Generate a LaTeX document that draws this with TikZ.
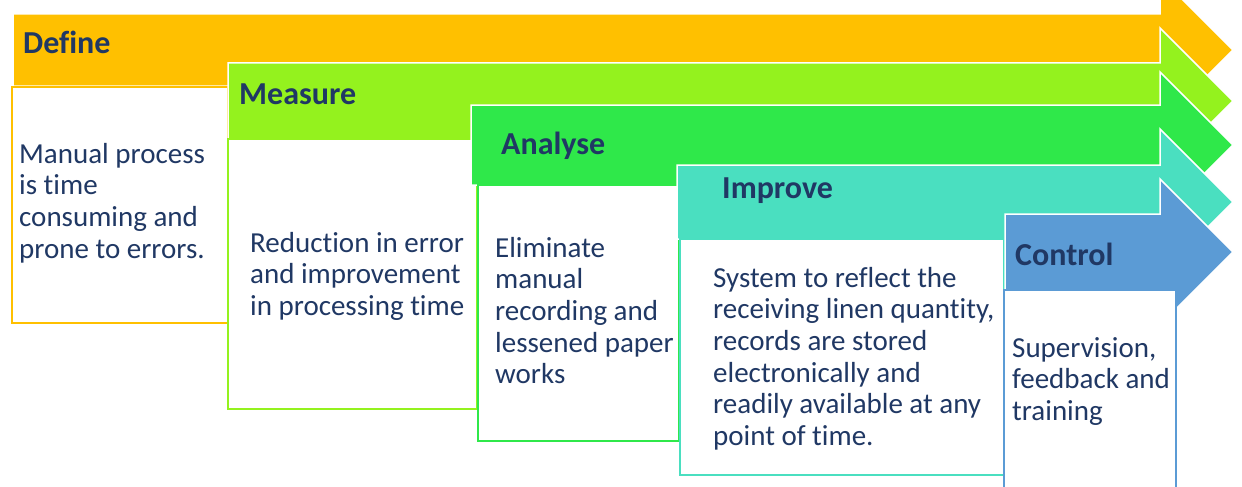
\documentclass[tikz,border=0pt]{standalone}
\usepackage{fontspec}
\setmainfont{Carlito}[Ligatures=NoCommon]
\definecolor{cOrange}{HTML}{FFC000}
\definecolor{cLime}{HTML}{94F21E}
\definecolor{cGreen}{HTML}{2FE84A}
\definecolor{cTeal}{HTML}{4ADFC0}
\definecolor{cBlue}{HTML}{5B9BD5}
\definecolor{cNavy}{HTML}{203864}
\newcommand{\dmaicarrow}[4]{%
  \fill[#4, draw=white, line width=1.5pt] (#1,#2-#3) -- (1160,#2-#3) -- (1160,#2-73) -- (1233,#2) -- (1160,#2+73) -- (1160,#2+#3) -- (#1,#2+#3) -- cycle;}
\begin{document}
\begin{tikzpicture}[x=1pt,y=-1pt,
  txtbox/.style={fill=white, line width=2pt},
  hdr/.style={anchor=base west, inner sep=0pt, font=\fontsize{32}{36}\selectfont\bfseries, text=cNavy},
  bodytext/.style={anchor=north west, inner sep=0pt, align=left, font=\fontsize{29}{31.6}\selectfont, text=cNavy}]
\useasboundingbox (0,0) rectangle (1242,487);
\clip (0,0) rectangle (1242,487);
% Define
\dmaicarrow{13}{50}{36}{cOrange}
\draw[txtbox, draw=cOrange] (12,87) rectangle (228,323);
\node[hdr] (hDefine) at (23,54) {Define};
\node[bodytext] (tDefine) at (19,141) {\strut Manual process\\is time\\consuming and\\prone to errors.\strut};
% Measure
\dmaicarrow{228}{101}{38}{cLime}
\draw[txtbox, draw=cLime] (228,139) rectangle (477,409);
\node[hdr] (hMeasure) at (239,104) {Measure};
\node[bodytext] (tMeasure) at (250,230) {\strut Reduction in error\\and improvement\\in processing time\strut};
% Analyse
\dmaicarrow{471}{145}{40}{cGreen}
\draw[txtbox, draw=cGreen] (478,185) rectangle (679,441);
\node[hdr] (hAnalyse) at (501,154) {Analyse};
\node[bodytext] (tAnalyse) at (495,235) {\strut Eliminate\\manual\\recording and\\lessened paper\\works\strut};
% Improve
\dmaicarrow{677}{202}{37}{cTeal}
\draw[txtbox, draw=cTeal] (680,239) rectangle (1004,475);
\node[hdr] (hImprove) at (722,198) {Improve};
\node[bodytext] (tImprove) at (713,265) {\strut System to reflect the\\receiving linen quantity,\\records are stored\\electronically and\\readily available at any\\point of time.\strut};
% Control
\dmaicarrow{1005}{252}{38}{cBlue}
\draw[txtbox, draw=cBlue] (1004,290) rectangle (1176,500);
\node[hdr] (hControl) at (1015,265) {Control};
\node[bodytext] (tControl) at (1012,335) {\strut Supervision,\\feedback and\\training\strut};
\end{tikzpicture}
\end{document}
